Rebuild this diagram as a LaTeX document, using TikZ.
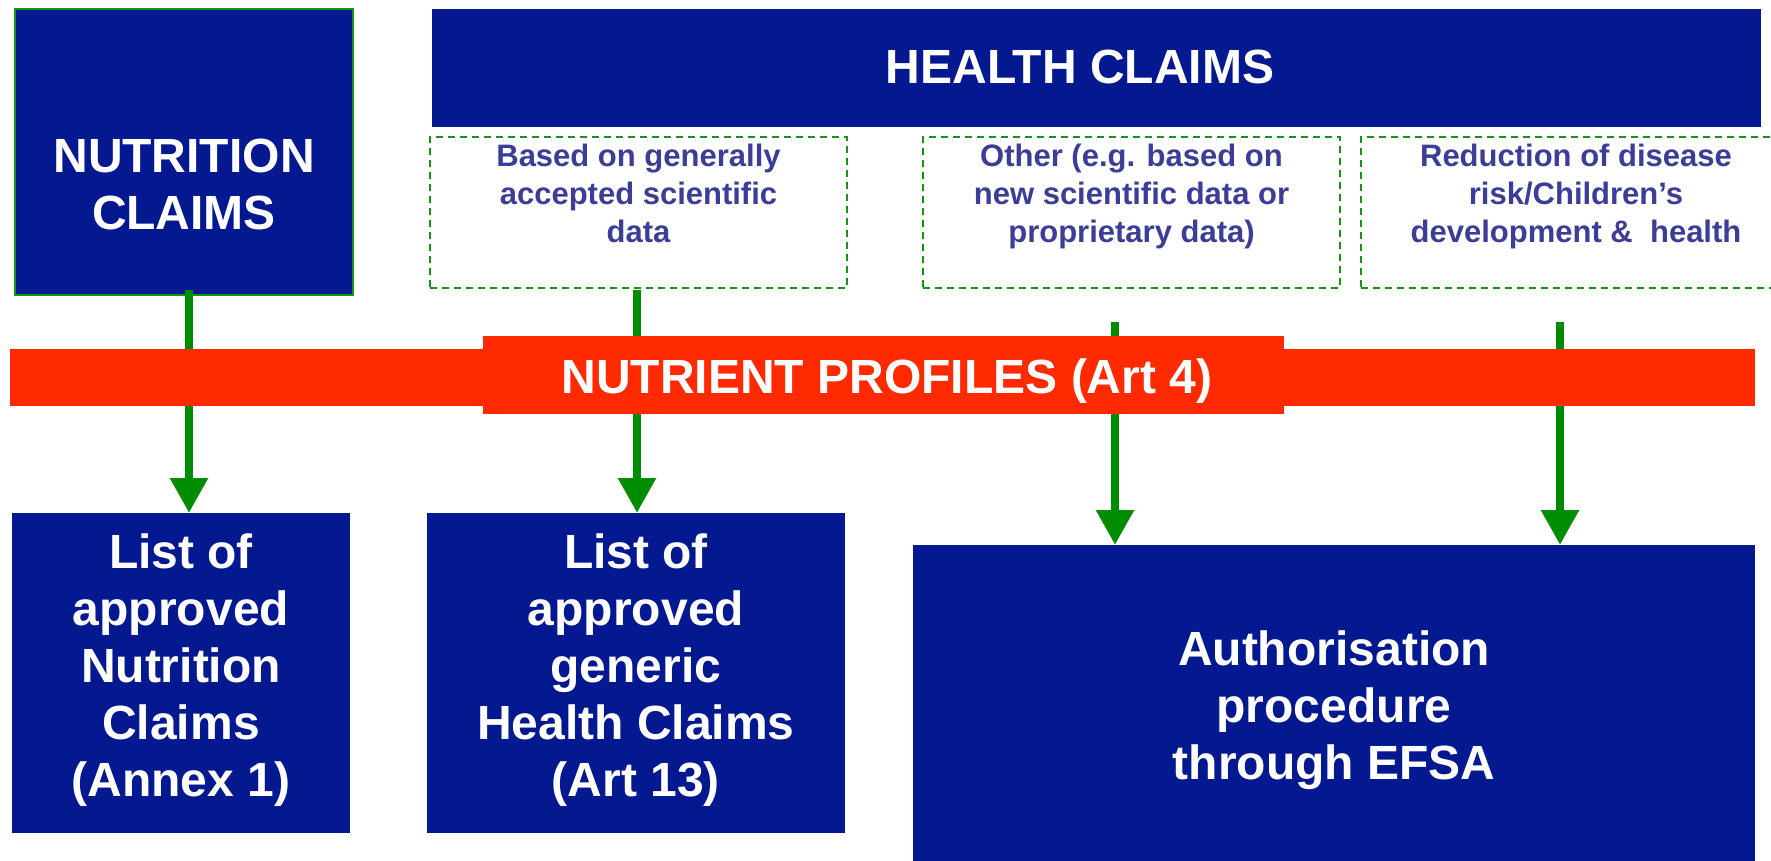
\documentclass[tikz,border=0pt]{standalone}
\usepackage{fontspec}
\setmainfont{Liberation Sans}
\usetikzlibrary{arrows.meta}
\definecolor{navy}{RGB}{4,24,143}
\definecolor{redbar}{RGB}{255,42,0}
\definecolor{arrgreen}{RGB}{0,140,0}
\definecolor{dashgreen}{RGB}{20,150,20}
\definecolor{subtext}{RGB}{59,61,150}
\begin{document}
\begin{tikzpicture}[x=1pt,y=-1pt,
  bluebox/.style={fill=navy, draw=none, inner sep=0pt, outer sep=0pt},
  dashbox/.style={draw=dashgreen, line width=1.8pt, dash pattern=on 7pt off 5pt, fill=none, inner sep=0pt, outer sep=0pt},
  redbox/.style={fill=redbar, draw=none, inner sep=0pt, outer sep=0pt},
  bigtxt/.style={text=white, font=\bfseries\fontsize{48}{57}\selectfont, align=center, inner sep=0pt},
  subtxt/.style={text=subtext, font=\bfseries\fontsize{31}{38}\selectfont, align=center, inner sep=0pt},
  flow/.style={draw=arrgreen, line width=8.5pt, -{Triangle[width=36pt,length=35pt]}}
]
\clip (0,0) rectangle (1771,860);
\useasboundingbox (0,0) rectangle (1771,860);

% top boxes
\node[bluebox, draw=dashgreen, line width=1.5pt, minimum width=338pt, minimum height=286pt] (nutr) at (184,152) {};
\node[bigtxt, anchor=north] (nutrT) at (184,138.5) {NUTRITION\\CLAIMS};

\node[bluebox, minimum width=1329pt, minimum height=118pt] (health) at (1096.5,68) {};
\node[bigtxt, anchor=base] (healthT) at (1080,83) {HEALTH CLAIMS};

\node[dashbox, minimum width=417pt, minimum height=151pt] (d1) at (638.5,212.5) {};
\node[subtxt, anchor=north] (d1T) at (638.5,143.8) {Based on generally\\accepted scientific\\data};
\node[dashbox, minimum width=417pt, minimum height=151pt] (d2) at (1131.5,212.5) {};
\node[subtxt, anchor=north] (d2T) at (1131.5,143.4) {Other (e.g. based on\\new scientific data or\\proprietary data)};
\node[dashbox, minimum width=429pt, minimum height=151pt] (d3) at (1575.5,212.5) {};
\node[subtxt, anchor=north] (d3T) at (1576,143.8) {Reduction of disease\\risk/Children’s\\development \&~ health};

% bottom boxes
\node[bluebox, minimum width=338pt, minimum height=320pt] (b1) at (181,673) {};
\node[bigtxt, anchor=north] (b1T) at (181,533.6) {List of\\approved\\Nutrition\\Claims\\(Annex 1)};
\node[bluebox, minimum width=418pt, minimum height=320pt] (b2) at (636,673) {};
\node[bigtxt, anchor=north] (b2T) at (636,533.6) {List of\\approved\\generic\\Health Claims\\(Art 13)};
\node[bluebox, minimum width=842pt, minimum height=335pt] (b3) at (1334,712.5) {};
\node[bigtxt, anchor=north] (b3T) at (1334,630.6) {Authorisation\\procedure\\through EFSA};

% arrows
\coordinate (s1) at (189,290);
\coordinate (s2) at (637,290);
\coordinate (s3) at (1115,322);
\coordinate (s4) at (1560,322);
\draw[flow] (s1) -- (s1 |- b1.north);
\draw[flow] (s2) -- (s2 |- b2.north);
\draw[flow] (s3) -- (s3 |- b3.north);
\draw[flow] (s4) -- (s4 |- b3.north);

% nutrient profiles bar
\node[redbox, minimum width=1745pt, minimum height=57pt] (bar) at (882.5,377.5) {};
\node[redbox, minimum width=801pt, minimum height=78pt] (barlabel) at (883.5,375) {};
\node[bigtxt, anchor=base] (barT) at (887,393) {NUTRIENT PROFILES (Art 4)};
\end{tikzpicture}
\end{document}
